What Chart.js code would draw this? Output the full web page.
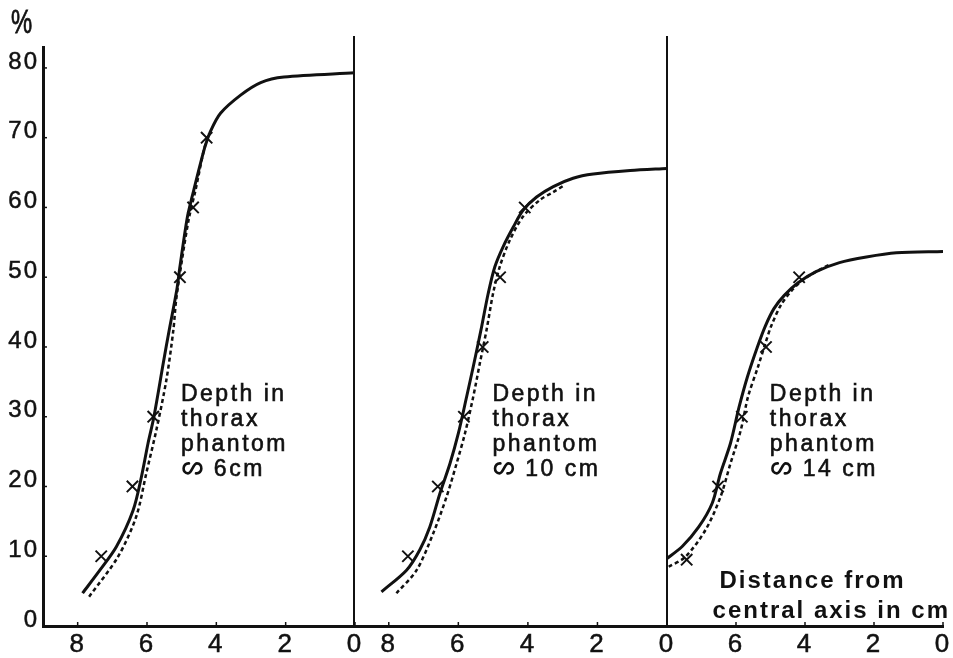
<!DOCTYPE html>
<html>
<head>
<meta charset="utf-8">
<script src="https://cdn.jsdelivr.net/npm/chart.js@4.4.0/dist/chart.umd.min.js"></script>
<style>
  html, body { margin: 0; background: #fff; }
  #wrap { position: relative; width: 953px; height: 658px; }
  #wrap canvas { position: absolute; left: 0; top: 0; }
</style>
</head>
<body>
<div id="wrap">
  <canvas id="panel6" width="953" height="658"></canvas>
  <canvas id="panel10" width="953" height="658"></canvas>
  <canvas id="panel14" width="953" height="658"></canvas>
</div>
<script>
// Dose profiles across the field edge at three depths in the thorax phantom.
// Each point is [distance from central axis in cm, dose in %].

// depth ~6 cm
const solid6 = [[7.86, 4.7], [7.36, 8.0], [6.88, 11.4], [6.40, 16.6], [6.16, 21.4], [5.97, 26.2],
  [5.80, 30.0], [5.53, 37.7], [5.36, 42.4], [5.14, 48.2], [5.05, 51.5], [4.84, 58.5], [4.70, 61.5],
  [4.34, 68.5], [4.17, 70.9], [3.88, 73.5], [3.30, 76.1], [2.72, 77.9], [2.05, 78.7], [0, 79.3]];
const dotted6 = [[7.67, 4.2], [6.84, 9.9], [6.31, 15.7], [6.02, 21.9], [5.73, 28.1], [5.44, 35.3],
  [5.24, 42.4], [5.16, 46.7], [4.99, 52.5], [4.80, 58.2], [4.60, 62.5], [4.36, 68.2], [4.22, 70.5]];
const marks6 = [[7.32, 10], [6.42, 20], [5.82, 30], [5.05, 50], [4.67, 60], [4.28, 70]];

// depth ~10 cm
const solid10 = [[8.21, 4.9], [7.49, 8.0], [7.11, 10.9], [6.82, 14.2], [6.53, 19.0], [6.24, 23.3],
  [6.00, 27.6], [5.76, 32.9], [5.57, 37.2], [5.43, 40.5], [5.33, 42.9], [5.14, 47.7], [4.95, 51.5],
  [4.71, 54.4], [4.42, 57.2], [4.14, 59.6], [3.75, 61.5], [3.27, 63.0], [2.70, 64.2], [2.12, 64.8],
  [1.06, 65.3], [0, 65.6]];
const dotted10 = [[7.78, 4.7], [7.20, 8.0], [6.72, 13.3], [6.34, 18.5], [6.05, 23.3], [5.81, 27.6],
  [5.57, 32.9], [5.38, 37.7], [5.19, 42.4], [5.00, 47.7], [4.81, 51.5], [4.52, 55.3], [4.14, 58.7],
  [3.65, 61.1], [3.27, 62.2], [2.95, 63.2]];
const marks10 = [[7.45, 10], [6.59, 20], [5.84, 30], [5.30, 40], [4.80, 50], [4.09, 60]];

// depth ~14 cm
const solid14 = [[8.05, 9.5], [7.56, 11.4], [7.08, 14.2], [6.69, 17.6], [6.45, 21.9], [6.16, 26.2],
  [5.91, 31.4], [5.67, 35.7], [5.38, 40.0], [5.15, 43.0], [4.90, 45.5], [4.60, 47.4], [4.20, 49.2],
  [3.68, 50.8], [3.00, 52.1], [2.22, 52.9], [1.35, 53.5], [0, 53.7]];
const dotted14 = [[7.95, 8.5], [7.47, 9.9], [6.88, 13.8], [6.45, 18.5], [6.16, 23.3], [5.86, 28.1],
  [5.65, 32.9], [5.36, 37.2], [5.15, 40.5], [4.98, 43.0], [4.70, 46.0], [4.40, 48.0], [4.07, 49.6],
  [3.68, 50.8], [3.29, 51.8]];
const marks14 = [[7.43, 9.5], [6.52, 20], [5.83, 30], [5.13, 40], [4.17, 50]];

const yTicks = [0, 10, 20, 30, 40, 50, 60, 70, 80];
const xTicksFull = [0, 2, 4, 6, 8];
const xTicksLast = [0, 2, 4, 6];

const APPROX = '\u223E';
const depthText = ['Depth in', 'thorax', 'phantom'];
const depthValues = [APPROX + ' 6cm', APPROX + ' 10 cm', APPROX + ' 14 cm'];
const axisText = ['Distance from', 'central axis in cm'];

const FONT = '"Liberation Sans", Arial, Helvetica, sans-serif';
const INK = '#111';

// lazy-S "approximately" sign with curled ends, left edge at (x0, midline y0)
function drawApprox(ctx, x0, y0) {
  ctx.save();
  ctx.translate(x0, y0);
  ctx.lineWidth = 2.6;
  ctx.lineCap = 'round';
  ctx.beginPath();
  ctx.moveTo(7, -5);
  ctx.bezierCurveTo(0, -5.5, 0, 5, 6, 5);
  ctx.bezierCurveTo(10, 5, 11, -5, 15, -5);
  ctx.bezierCurveTo(21, -5, 21, 5.5, 14, 5);
  ctx.stroke();
  ctx.restore();
  return 22;
}

// text, short inward tick marks and the % unit, drawn on top of each panel
const paperExtras = {
  id: 'paperExtras',
  beforeDraw(chart) { chart.ctx.letterSpacing = '2px'; },
  afterDraw(chart, args, opts) {
    const { ctx, chartArea } = chart;
    const x = chart.scales.x, y = chart.scales.y;
    ctx.save();
    ctx.strokeStyle = INK;
    ctx.fillStyle = INK;
    ctx.lineWidth = 1.5;
    opts.xTicks.forEach(v => {
      const px = x.getPixelForValue(v);
      ctx.beginPath(); ctx.moveTo(px, chartArea.bottom); ctx.lineTo(px, chartArea.bottom - 4); ctx.stroke();
    });
    (opts.yTicks || []).forEach(v => {
      const py = y.getPixelForValue(v);
      ctx.beginPath(); ctx.moveTo(chartArea.left, py); ctx.lineTo(chartArea.left + 4, py); ctx.stroke();
    });
    ctx.textAlign = 'left';
    ctx.textBaseline = 'alphabetic';
    opts.notes.forEach(n => {
      const px = x.getPixelForValue(n.x), py = y.getPixelForValue(n.y);
      n.lines.forEach((t, i) => {
        let lx = px;
        const ly = py + i * n.lineHeight;
        if (t.startsWith(APPROX)) {
          lx += drawApprox(ctx, lx + 1, ly - 8) + 2;
          t = t.slice(1);
        }
        ctx.lineWidth = n.stroke;
        ctx.font = n.font;
        ctx.letterSpacing = n.spacing;
        ctx.fillText(t, lx, ly);
        if (n.stroke) ctx.strokeText(t, lx, ly);
      });
    });
    if (opts.unit) {
      ctx.letterSpacing = '0px';
      ctx.font = '34px ' + FONT;
      ctx.lineWidth = 0.8;
      ctx.translate(11, 33);
      ctx.scale(0.7, 1);
      ctx.fillText(opts.unit, 0, 0);
      ctx.strokeText(opts.unit, 0, 0);
    }
    ctx.restore();
  }
};

function line(points, dash, width) {
  return {
    data: points.map(([x, y]) => ({ x, y })),
    borderColor: INK, borderWidth: width, borderDash: dash,
    pointRadius: 0, showLine: true, fill: false, tension: 0.3
  };
}

function panel(id, p) {
  const depthNote = {
    lines: [...depthText, p.depth], x: 5.02, y: 32.2, lineHeight: 25,
    font: '23px ' + FONT, spacing: '2.5px', stroke: 0.6
  };
  return new Chart(document.getElementById(id), {
    type: 'scatter',
    data: {
      datasets: [
        line(p.dotted, [4, 3], 2.5),
        line(p.solid, [], 3),
        {
          data: p.marks.map(([x, y]) => ({ x, y })),
          pointStyle: 'crossRot', pointRadius: 8, pointBorderWidth: 2,
          pointBorderColor: INK, showLine: false
        }
      ]
    },
    options: {
      responsive: false, animation: false, devicePixelRatio: 1,
      layout: { padding: { left: p.left, right: p.right, top: p.top, bottom: 0 } },
      plugins: {
        legend: { display: false }, tooltip: { enabled: false },
        paperExtras: {
          xTicks: p.xTicks, yTicks: p.showY ? yTicks : null, unit: p.showY ? '%' : null,
          notes: [depthNote, ...(p.extraNotes || [])]
        }
      },
      scales: {
        x: {
          type: 'linear', reverse: true, min: 0, max: p.xMax,
          afterBuildTicks: s => { s.ticks = p.xTicks.map(v => ({ value: v })); },
          afterFit: s => { s.height = 32; },
          grid: { display: false, drawTicks: false },
          border: { display: true, color: INK, width: 3 },
          ticks: { color: INK, font: { family: FONT, size: 26 }, padding: 3, maxRotation: 0, autoSkip: false,
            textStrokeColor: INK, textStrokeWidth: 0.5 }
        },
        y: {
          type: 'linear', min: 0, max: p.yMax,
          afterBuildTicks: s => { s.ticks = yTicks.map(v => ({ value: v })); },
          afterFit: s => { s.width = p.showY ? 43 : 0; },
          grid: { display: false, drawTicks: false },
          border: { display: true, color: INK, width: p.showY ? 3 : 2 },
          ticks: { display: p.showY, color: INK, font: { family: FONT, size: 24 }, padding: 4, labelOffset: -6,
            textStrokeColor: INK, textStrokeWidth: 0.5 }
        }
      }
    },
    plugins: [paperExtras]
  });
}

panel('panel6', {
  solid: solid6, dotted: dotted6, marks: marks6, depth: depthValues[0],
  xMax: 9, yMax: 83, xTicks: xTicksFull, showY: true,
  left: 0, right: 598, top: 47
});
panel('panel10', {
  solid: solid10, dotted: dotted10, marks: marks10, depth: depthValues[1],
  xMax: 9, yMax: 84.5, xTicks: xTicksFull, showY: false,
  left: 354, right: 286, top: 36.6
});
panel('panel14', {
  solid: solid14, dotted: dotted14, marks: marks14, depth: depthValues[2],
  xMax: 8, yMax: 84.5, xTicks: xTicksLast, showY: false,
  left: 667, right: 10, top: 36.6,
  extraNotes: [
    { lines: [axisText[0]], x: 6.48, y: 5.45, lineHeight: 30, font: 'bold 24px ' + FONT, spacing: '2px', stroke: 0 },
    { lines: [axisText[1]], x: 6.68, y: 1.15, lineHeight: 30, font: 'bold 24px ' + FONT, spacing: '2px', stroke: 0 }
  ]
});
</script>
</body>
</html>
